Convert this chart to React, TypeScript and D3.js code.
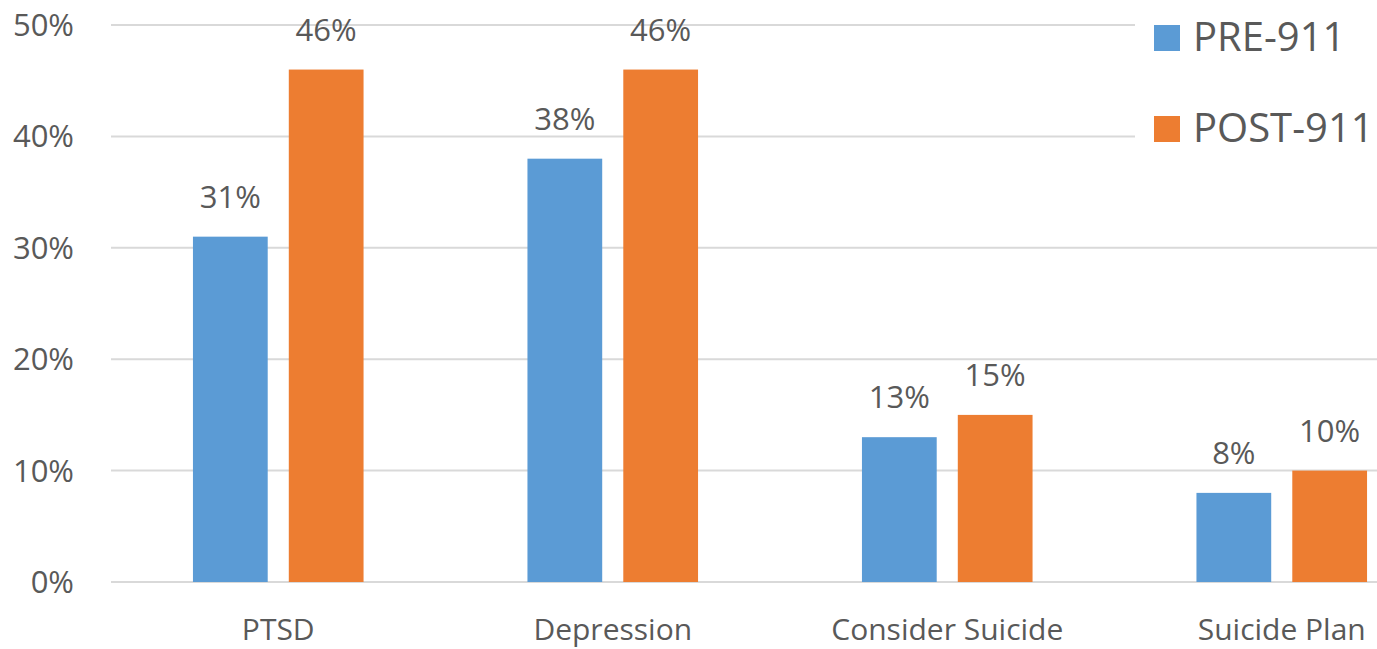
import React from "react";
import * as d3 from "d3";

const categories = ["PTSD", "Depression", "Consider Suicide", "Suicide Plan"];
const pre911 = [31, 38, 13, 8];
const post911 = [46, 46, 15, 10];
const seriesNames = ["PRE-911", "POST-911"];
const seriesColors = ["#5B9BD5", "#ED7D31"];
const yTicks = [0, 10, 20, 30, 40, 50];

const W = 1377;
const H = 649;
const font = "'Open Sans', sans-serif";
const textColor = "#595959";

const App = () => {
  const x = d3.scaleBand().domain(categories).range([111, 1449]).paddingInner(0.49).paddingOuter(0.245);
  const y = d3.scaleLinear().domain([0, 50]).range([582, 25]);
  const x1 = d3.scaleBand().domain(seriesNames).range([0, x.bandwidth()]).paddingInner(0.22);

  const series = [pre911, post911];

  return (
    <svg width={W} height={H} style={{ position: "absolute", left: 0, top: 0, background: "#fff" }}>
      {/* grid */}
      {yTicks.map((t) => (
        <g key={t}>
          <line x1={111} x2={1449} y1={y(t)} y2={y(t)} stroke="#D9D9D9" strokeWidth={2} />
          <text x={74} y={y(t) + 11} textAnchor="end" fontFamily={font} fontSize={31} fill={textColor}>
            {t}%
          </text>
        </g>
      ))}

      {/* bars */}
      {categories.map((c, i) => (
        <g key={c} transform={`translate(${x(c)},0)`}>
          {seriesNames.map((s, j) => {
            const v = series[j][i];
            return (
              <g key={s}>
                <rect x={x1(s)} y={y(v)} width={x1.bandwidth()} height={y(0) - y(v)} fill={seriesColors[j]} />
                <text
                  x={(x1(s) || 0) + x1.bandwidth() / 2}
                  y={y(v) - 29}
                  textAnchor="middle"
                  fontFamily={font}
                  fontSize={31}
                  fill={textColor}
                >
                  {v}%
                </text>
              </g>
            );
          })}
          <text x={x.bandwidth() / 2} y={640} textAnchor="middle" fontFamily={font} fontSize={30} fill={textColor}>
            {c}
          </text>
        </g>
      ))}

      {/* legend */}
      <rect x={1135} y={0} width={W - 1135} height={165} fill="#fff" />
      {seriesNames.map((s, j) => (
        <g key={s} transform={`translate(1154,${25 + j * 91})`}>
          <rect width={26} height={26} fill={seriesColors[j]} />
          <text x={39} y={26} fontFamily={font} fontSize={40} fill={textColor}>
            {s}
          </text>
        </g>
      ))}
    </svg>
  );
};

export default App;
